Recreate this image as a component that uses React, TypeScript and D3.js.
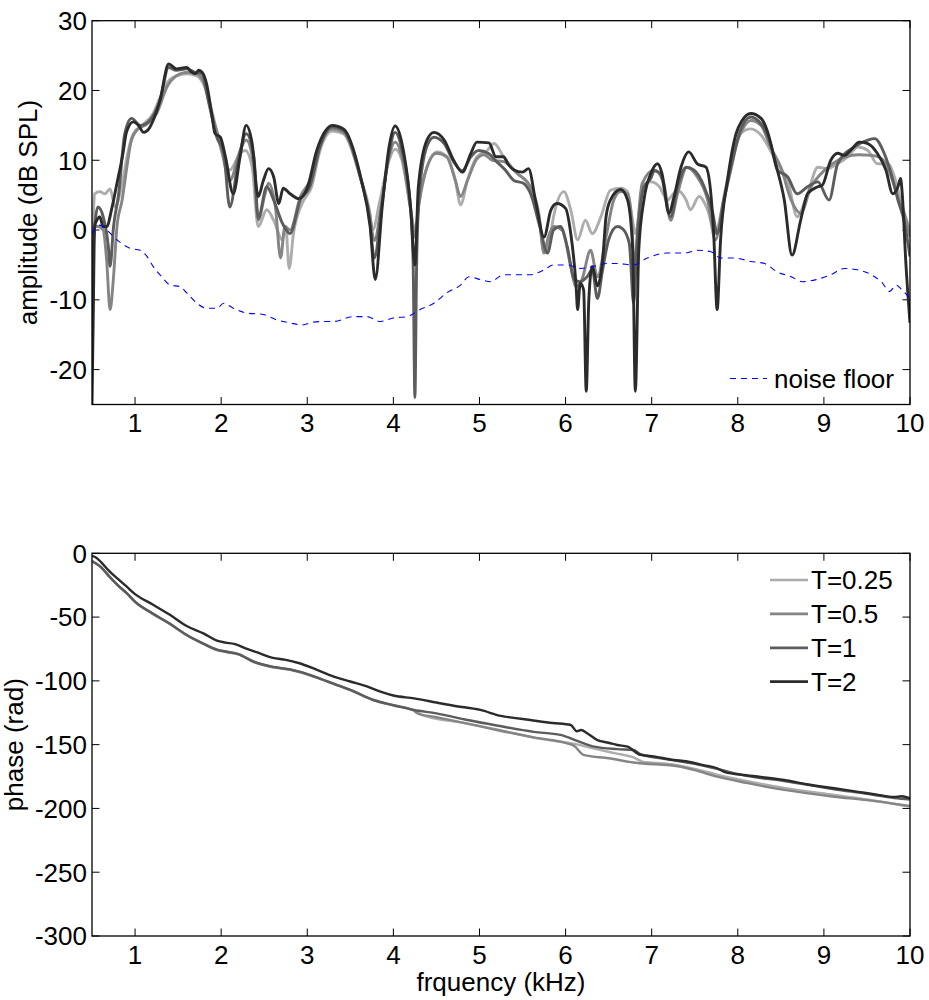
import React from "react";
import * as d3 from "d3";

// ---------- data ----------
const xTicks = [1, 2, 3, 4, 5, 6, 7, 8, 9, 10];
const ampTicks = [-20, -10, 0, 10, 20, 30];
const phaseTicks = [0, -50, -100, -150, -200, -250, -300];
const seriesNames = ["T=0.25", "T=0.5", "T=1", "T=2"];
const seriesColors = ["#adadad", "#858585", "#5c5c5c", "#2b2b2b"];

// amplitude (dB SPL) vs frequency (kHz)
const ampT025: [number, number][] = [[0.5,-5],[0.515,1.9],[0.53,5.2],[0.59,5.5],[0.65,5.2],[0.71,5.9],[0.77,3.3],[0.85,6.7],[0.92,11.3],[0.98,13.8],[1.1,15.2],[1.21,16.7],[1.29,19],[1.39,21.4],[1.48,22.1],[1.6,22.4],[1.72,22.1],[1.81,20.5],[1.91,16.2],[2.01,11],[2.1,8.6],[2.22,11],[2.28,11.4],[2.36,9],[2.43,0.5],[2.53,2.9],[2.61,1.4],[2.71,-1.4],[2.75,0.5],[2.79,-5.5],[2.84,-0.5],[2.94,3.8],[3.05,6.2],[3.15,11.5],[3.29,14.2],[3.42,13.8],[3.62,7.4],[3.72,3],[3.76,0],[3.84,4],[3.95,10],[4.02,11.6],[4.1,10],[4.2,3],[4.25,0],[4.3,4],[4.39,9],[4.51,11.2],[4.62,10.5],[4.72,7.1],[4.78,3.6],[4.86,7.1],[4.97,10.5],[5.09,11.4],[5.17,12.4],[5.28,10.5],[5.44,8.1],[5.59,6.2],[5.69,2.4],[5.75,-3.3],[5.8,-2.5],[5.86,1.9],[5.98,5.5],[6.06,2.9],[6.14,-1.4],[6.23,1.4],[6.31,-0.5],[6.41,1.9],[6.52,5.7],[6.64,6],[6.72,5.5],[6.77,2],[6.81,-0.5],[6.85,2],[6.89,6.2],[6.99,6.9],[7.09,6.2],[7.18,4.3],[7.3,5.7],[7.4,4.3],[7.45,2.9],[7.55,4.8],[7.65,2.9],[7.74,-0.5],[7.82,3.3],[7.92,8.6],[8.03,13.8],[8.15,14.5],[8.27,13.6],[8.38,11.4],[8.46,9.5],[8.58,7.1],[8.69,1.9],[8.81,5.2],[8.93,9],[9.04,8.8],[9.16,9.5],[9.28,10.5],[9.39,11.9],[9.51,11.4],[9.62,9.5],[9.74,9.5],[9.82,7.6],[9.89,4.3],[10,0]];

const ampT05: [number, number][] = [[0.5,-2],[0.52,0.5],[0.57,0.5],[0.63,0],[0.67,-4.3],[0.71,-11.4],[0.75,-6.7],[0.79,0.5],[0.85,4.3],[0.9,8.6],[0.95,12.5],[1.02,14.3],[1.14,15.2],[1.25,16.7],[1.37,20.5],[1.48,22.1],[1.6,22.6],[1.72,22.4],[1.79,21.4],[1.89,16.7],[1.99,12.4],[2.1,7.1],[2.22,11.4],[2.29,12.9],[2.38,9],[2.43,1.4],[2.51,5.2],[2.55,6.7],[2.63,3.3],[2.69,-4],[2.74,0.5],[2.8,0],[2.92,4.8],[3.03,7.1],[3.15,12.3],[3.29,14.5],[3.42,14],[3.62,7.4],[3.72,2.5],[3.78,-1.5],[3.86,3.5],[3.95,10.5],[4.02,12.6],[4.1,10.5],[4.2,3],[4.25,-1],[4.3,4],[4.39,9],[4.5,11],[4.62,10.5],[4.72,7.1],[4.78,4.8],[4.86,7.1],[4.97,10.2],[5.05,10.8],[5.15,10],[5.28,9.8],[5.44,8.1],[5.59,6.2],[5.69,2],[5.75,-3.3],[5.8,-1],[5.86,0.5],[5.96,0],[6.06,-5.2],[6.12,-8.1],[6.19,-7.1],[6.29,-2.9],[6.37,-6.7],[6.47,-1],[6.56,4.3],[6.64,5.5],[6.72,5.2],[6.77,1],[6.8,-6],[6.84,1],[6.89,6.7],[7.03,8.6],[7.14,6.7],[7.22,1.4],[7.3,5.2],[7.41,9],[7.53,7.6],[7.65,4.3],[7.74,-1.4],[7.84,4.8],[7.94,10.5],[8.03,13.8],[8.15,15.7],[8.27,15],[8.38,11.9],[8.5,9],[8.62,4.3],[8.73,2.4],[8.85,6.2],[8.96,8],[9.1,9.5],[9.25,10.5],[9.4,10.8],[9.55,10.7],[9.65,10.4],[9.72,9.5],[9.8,7],[9.88,4],[9.94,2],[10,-1]];

const ampT1: [number, number][] = [[0.5,-20],[0.515,-2.4],[0.57,3.3],[0.63,1.9],[0.69,-2.4],[0.71,-5.2],[0.75,0.5],[0.81,5.2],[0.88,13.8],[0.96,16],[1.06,15],[1.17,15.7],[1.29,18.6],[1.39,23.3],[1.48,22.9],[1.6,23.1],[1.7,22.6],[1.78,22.4],[1.85,18.6],[1.95,13.3],[2.03,11],[2.1,3.3],[2.2,10],[2.29,13.8],[2.38,10.5],[2.43,1.7],[2.53,6.2],[2.61,4.3],[2.71,1],[2.8,-0.5],[2.92,4.3],[3.03,6.2],[3.15,12],[3.29,14.8],[3.42,14.3],[3.62,7.4],[3.72,2],[3.78,-4],[3.86,3],[3.95,11],[4.02,14],[4.1,11.5],[4.2,3],[4.23,-5],[4.25,-24],[4.27,-5],[4.3,5],[4.39,12],[4.47,13.3],[4.59,12.4],[4.7,9.8],[4.8,8.5],[4.9,10.5],[4.99,11.4],[5.1,11],[5.2,9.8],[5.3,8.6],[5.4,7.1],[5.51,6.7],[5.6,5],[5.7,0.5],[5.79,-3.3],[5.86,0],[5.94,0.5],[6.02,-2.4],[6.1,-7.1],[6.17,-7.4],[6.25,-6.7],[6.31,-5.7],[6.37,-9.8],[6.43,-5.7],[6.5,-1.4],[6.6,0.5],[6.66,0.2],[6.74,-1.9],[6.79,-10.5],[6.83,-1.9],[6.91,6.2],[6.99,7.4],[7.03,8.5],[7.1,8.1],[7.22,1.9],[7.3,6.2],[7.4,9],[7.49,8.6],[7.61,6.2],[7.71,2.4],[7.76,-0.5],[7.84,4.3],[7.94,10],[8.03,14.3],[8.15,16.2],[8.27,15.2],[8.38,12.4],[8.46,8.6],[8.58,7.6],[8.69,5.2],[8.81,6.2],[8.93,6.9],[9.06,4.3],[9.16,9.5],[9.35,11.9],[9.51,12.9],[9.59,13.1],[9.7,11],[9.78,8.1],[9.86,4.3],[9.93,1.4],[10,-3.8]];

const ampT2: [number, number][] = [[0.5,-25],[0.515,-12],[0.53,0.5],[0.56,1.5],[0.59,1.9],[0.63,0.5],[0.67,0.5],[0.73,3.1],[0.79,6.7],[0.86,11],[0.9,14],[0.98,15.5],[1.04,15],[1.1,14],[1.16,14.5],[1.21,15.7],[1.29,18.6],[1.39,23.8],[1.48,23.1],[1.6,23.3],[1.66,22.6],[1.7,22.4],[1.74,22.9],[1.78,22.6],[1.83,21],[1.89,16.7],[1.93,13.8],[1.99,13.3],[2.05,10.5],[2.14,5.2],[2.22,10.5],[2.29,15],[2.36,12.4],[2.43,4.8],[2.49,7.1],[2.55,8.8],[2.61,7.6],[2.67,3.8],[2.72,6],[2.8,5.2],[2.9,4.5],[3.0,6],[3.11,11.4],[3.2,14],[3.29,15],[3.42,14.5],[3.62,7.6],[3.73,0.5],[3.79,-7.1],[3.87,3.3],[3.95,11.9],[4.02,14.9],[4.1,12.4],[4.2,3.3],[4.25,-5],[4.29,6.2],[4.39,12.9],[4.47,14],[4.59,12.9],[4.7,10],[4.8,8.3],[4.9,11],[4.97,12.6],[5.11,12.5],[5.19,10.5],[5.28,10.5],[5.33,9.5],[5.4,8.6],[5.5,8.3],[5.57,8.8],[5.65,4.3],[5.75,-1],[5.83,2.9],[5.9,3.8],[6.0,3.1],[6.06,-0.5],[6.12,-7.6],[6.14,-11.4],[6.17,-7.6],[6.21,-8.6],[6.24,-23.1],[6.27,-10],[6.31,-5.2],[6.37,-8],[6.43,-4.3],[6.47,1.9],[6.52,4.3],[6.64,5.8],[6.72,4.3],[6.78,-2.9],[6.81,-23.1],[6.85,-2.9],[6.91,4.3],[6.99,8.1],[7.07,9.5],[7.12,8.1],[7.2,2.4],[7.26,4.8],[7.34,9],[7.43,11.2],[7.53,9.5],[7.63,9],[7.69,4.8],[7.72,-0.5],[7.76,-11.4],[7.8,-1.4],[7.88,7.1],[7.98,13.8],[8.05,15.7],[8.15,16.7],[8.27,16],[8.34,14.3],[8.44,9.5],[8.54,4.3],[8.63,-3.6],[8.73,1.4],[8.81,5.2],[8.93,6.2],[8.98,6.4],[9.08,10],[9.16,11],[9.24,10.7],[9.31,11.4],[9.41,12.6],[9.51,12.4],[9.62,11],[9.72,8.6],[9.8,5.2],[9.86,6.2],[9.89,7.4],[9.91,5.2],[9.95,-4.3],[10,-13.3]];

const noiseFloor: [number, number][] = [[0.5,-0.5],[0.59,0.7],[0.67,0],[0.79,-1.4],[0.94,-2.6],[1.06,-2.9],[1.14,-3.8],[1.21,-5.2],[1.31,-6.7],[1.41,-7.9],[1.52,-8.1],[1.6,-9],[1.72,-10.5],[1.83,-11.2],[1.95,-11.2],[2.03,-10.5],[2.14,-11.2],[2.3,-11.9],[2.49,-12.1],[2.65,-12.9],[2.8,-13.3],[2.94,-13.6],[3.07,-13.2],[3.2,-13.1],[3.31,-13.1],[3.54,-12.4],[3.69,-12.4],[3.85,-13.1],[4.0,-12.6],[4.16,-12.4],[4.31,-11.4],[4.47,-10.5],[4.62,-9],[4.78,-7.9],[4.88,-6.7],[5.01,-7.1],[5.13,-7.4],[5.28,-6.4],[5.44,-6.4],[5.59,-6.4],[5.75,-5.7],[5.86,-5],[6.02,-5],[6.17,-5.5],[6.33,-5.2],[6.48,-4.8],[6.6,-4.8],[6.79,-5],[6.95,-4],[7.18,-3.3],[7.38,-3.3],[7.53,-2.9],[7.69,-3.1],[7.8,-4],[7.96,-4],[8.15,-4.5],[8.31,-4.8],[8.46,-6],[8.62,-6.7],[8.75,-7.4],[8.91,-7.1],[9.08,-6.4],[9.24,-5.5],[9.39,-5.7],[9.55,-6.4],[9.68,-7.6],[9.76,-8.8],[9.84,-7.9],[9.91,-8.6],[10,-9.8]];

// phase (rad) vs frequency (kHz)
const phT025: [number, number][] = [[0.5,-6.5],[0.6,-10.8],[0.7,-18.3],[0.8,-25.3],[0.9,-31.3],[1.0,-38.2],[1.2,-47.3],[1.4,-55.3],[1.6,-64.3],[1.8,-71.3],[1.95,-75.8],[2.05,-77.3],[2.2,-79.3],[2.38,-85.3],[2.6,-89.3],[2.8,-91.3],[2.92,-93.3],[3.1,-97.3],[3.3,-102.3],[3.5,-107.3],[3.77,-115.3],[4.0,-119.3],[4.24,-123.5],[4.3,-126],[4.86,-133.5],[5.2,-138],[5.63,-144.5],[6.01,-148.5],[6.15,-150],[6.24,-151.6],[6.58,-156.8],[6.79,-160],[6.9,-163.5],[7.18,-165],[7.5,-169],[7.76,-173.5],[8.1,-178.5],[8.54,-184],[9.12,-189.5],[9.5,-193],[10,-198.6]];
const phT05: [number, number][] = [[0.5,-6.2],[0.6,-10.6],[0.7,-18.1],[0.8,-25.1],[0.9,-31.1],[1.0,-38],[1.2,-47.1],[1.4,-55.1],[1.6,-64.1],[1.8,-71.1],[1.95,-75.6],[2.05,-77.1],[2.2,-79.1],[2.38,-85.1],[2.6,-89.1],[2.8,-91.1],[2.92,-93.1],[3.1,-97.1],[3.3,-102.1],[3.5,-107.1],[3.77,-115.1],[4.0,-119.1],[4.24,-123],[4.27,-125.2],[4.5,-128.5],[4.86,-133.5],[5.2,-138.5],[5.63,-144.3],[6.02,-149],[6.1,-151],[6.21,-158],[6.5,-160.7],[6.79,-164],[7.34,-167.3],[7.5,-170],[7.76,-175.1],[8.1,-180],[8.54,-185.5],[9.12,-190.8],[9.5,-193.5],[10,-198.1]];
const phT1: [number, number][] = [[0.5,-6],[0.6,-10.5],[0.7,-18],[0.8,-25],[0.9,-31],[1.0,-37.9],[1.2,-47],[1.4,-55],[1.6,-64],[1.8,-71],[1.95,-75.5],[2.05,-77],[2.2,-79],[2.38,-85],[2.6,-89],[2.8,-91],[2.92,-93],[3.1,-97],[3.3,-102],[3.5,-107],[3.77,-115],[4.0,-119],[4.24,-122.8],[4.5,-125.5],[4.86,-130.7],[5.2,-135],[5.63,-140],[5.94,-142.4],[6.15,-147.5],[6.33,-151.6],[6.6,-153.5],[6.79,-154.2],[6.87,-157.5],[7.18,-161.5],[7.5,-165],[7.76,-169],[8.1,-174.5],[8.54,-178.5],[9.12,-185],[9.5,-188.5],[9.82,-191.8],[10,-193]];
const phT2: [number, number][] = [[0.5,-2],[0.55,-3.5],[0.6,-6.6],[0.7,-14],[0.8,-20],[0.9,-26],[1.0,-32],[1.2,-40],[1.4,-48],[1.6,-57],[1.8,-63],[1.95,-68.5],[2.05,-70],[2.15,-71],[2.3,-75],[2.45,-78.5],[2.6,-82],[2.75,-83.5],[2.9,-86],[3.1,-91],[3.3,-96.5],[3.5,-100.5],[3.7,-104.5],[3.85,-108.5],[4.0,-111.5],[4.24,-113.7],[4.5,-117],[4.7,-119.5],[5.01,-122.8],[5.25,-127.5],[5.4,-129],[5.59,-130.7],[5.85,-133],[6.06,-134.6],[6.13,-139.5],[6.18,-138.5],[6.25,-141],[6.37,-146.4],[6.5,-148.5],[6.6,-150.3],[6.72,-151.6],[6.87,-158],[7.0,-159],[7.26,-162],[7.4,-163],[7.6,-166],[7.76,-168.5],[7.85,-171.5],[8.1,-174],[8.54,-177.7],[8.8,-181],[9.12,-184.2],[9.4,-187],[9.6,-189],[9.82,-191],[9.9,-190.5],[10,-192.1]];

const ampSeries = [ampT025, ampT05, ampT1, ampT2];
const phaseSeries = [phT025, phT05, phT1, phT2];

// ---------- layout ----------
const W = 929, H = 1000;
const L = 92, R = 910;
const top1 = 20.7, bot1 = 404.5;
const top2 = 553.3, bot2 = 936;
const FONT = "'Liberation Sans', Arial, Helvetica, sans-serif";
const FS = 26;
const TICK = 7.5;

const x = d3.scaleLinear().domain([0.5, 10]).range([L, R]);
const yAmp = d3.scaleLinear().domain([-25, 30]).range([bot1, top1]);
const yPh = d3.scaleLinear().domain([-300, 0]).range([bot2, top2]);

function Axes({ y, yt, top, bot, clipId, ylabel, ylabelX }: any) {
  return (
    <g>
      <rect x={L} y={top} width={R - L} height={bot - top} fill="#fff" />
      {xTicks.map((t) => (
        <g key={"x" + t}>
          <line x1={x(t)} x2={x(t)} y1={bot} y2={bot - TICK} stroke="#000" strokeWidth={1} />
          <line x1={x(t)} x2={x(t)} y1={top} y2={top + TICK} stroke="#000" strokeWidth={1} />
          <text x={x(t)} y={bot + 27.5} textAnchor="middle" fontFamily={FONT} fontSize={FS} fill="#000">{t}</text>
        </g>
      ))}
      {yt.map((t: number) => (
        <g key={"y" + t}>
          <line x1={L} x2={L + TICK} y1={y(t)} y2={y(t)} stroke="#000" strokeWidth={1} />
          <line x1={R} x2={R - TICK} y1={y(t)} y2={y(t)} stroke="#000" strokeWidth={1} />
          <text x={87} y={y(t) + 9.3} textAnchor="end" fontFamily={FONT} fontSize={FS} fill="#000">{t}</text>
        </g>
      ))}
      <text transform={`translate(${ylabelX},${(top + bot) / 2}) rotate(-90)`} textAnchor="middle" fontFamily={FONT} fontSize={FS} fill="#000">{ylabel}</text>
      <clipPath id={clipId}><rect x={L} y={top} width={R - L} height={bot - top} /></clipPath>
    </g>
  );
}

function Frame({ top, bot }: any) {
  return <rect x={L} y={top} width={R - L} height={bot - top} fill="none" stroke="#000" strokeWidth={1.3} />;
}

export default function App() {
  const lineAmp = d3.line<[number, number]>().x((d) => x(d[0])).y((d) => yAmp(d[1])).curve(d3.curveMonotoneX);
  const linePh = d3.line<[number, number]>().x((d) => x(d[0])).y((d) => yPh(d[1])).curve(d3.curveMonotoneX);
  return (
    <svg width={W} height={H} style={{ position: "absolute", left: 0, top: 0, background: "#fff" }}>
      <rect x={0} y={0} width={W} height={H} fill="#fff" />
      {/* top: amplitude */}
      <Axes y={yAmp} yt={ampTicks} top={top1} bot={bot1} clipId="c1" ylabel="amplitude (dB SPL)" ylabelX={37} />
      <g clipPath="url(#c1)">
        {ampSeries.map((s, i) => (
          <path key={i} d={lineAmp(s) || ""} fill="none" stroke={seriesColors[i]} strokeWidth={2.9} strokeLinejoin="round" />
        ))}
        <path d={lineAmp(noiseFloor) || ""} fill="none" stroke="#0000ff" strokeWidth={1.1} strokeDasharray="6,5" />
      </g>
      <Frame top={top1} bot={bot1} />
      <line x1={730} x2={767} y1={378.5} y2={378.5} stroke="#0000ff" strokeWidth={1.1} strokeDasharray="6,5" />
      <text x={774} y={387.5} fontFamily={FONT} fontSize={FS} fill="#000">noise floor</text>

      {/* bottom: phase */}
      <Axes y={yPh} yt={phaseTicks} top={top2} bot={bot2} clipId="c2" ylabel="phase (rad)" ylabelX={23} />
      <g clipPath="url(#c2)">
        {phaseSeries.map((s, i) => (
          <path key={i} d={linePh(s) || ""} fill="none" stroke={seriesColors[i]} strokeWidth={2.4} strokeLinejoin="round" />
        ))}
      </g>
      <Frame top={top2} bot={bot2} />
      {seriesNames.map((n, i) => (
        <g key={n}>
          <line x1={770} x2={808} y1={580 + i * 33.9} y2={580 + i * 33.9} stroke={seriesColors[i]} strokeWidth={2.7} />
          <text x={811} y={580 + i * 33.9 + 9.3} fontFamily={FONT} fontSize={FS} fill="#000">{n}</text>
        </g>
      ))}
      <text x={(L + R) / 2} y={991} textAnchor="middle" fontFamily={FONT} fontSize={FS} fill="#000">frquency (kHz)</text>
    </svg>
  );
}
